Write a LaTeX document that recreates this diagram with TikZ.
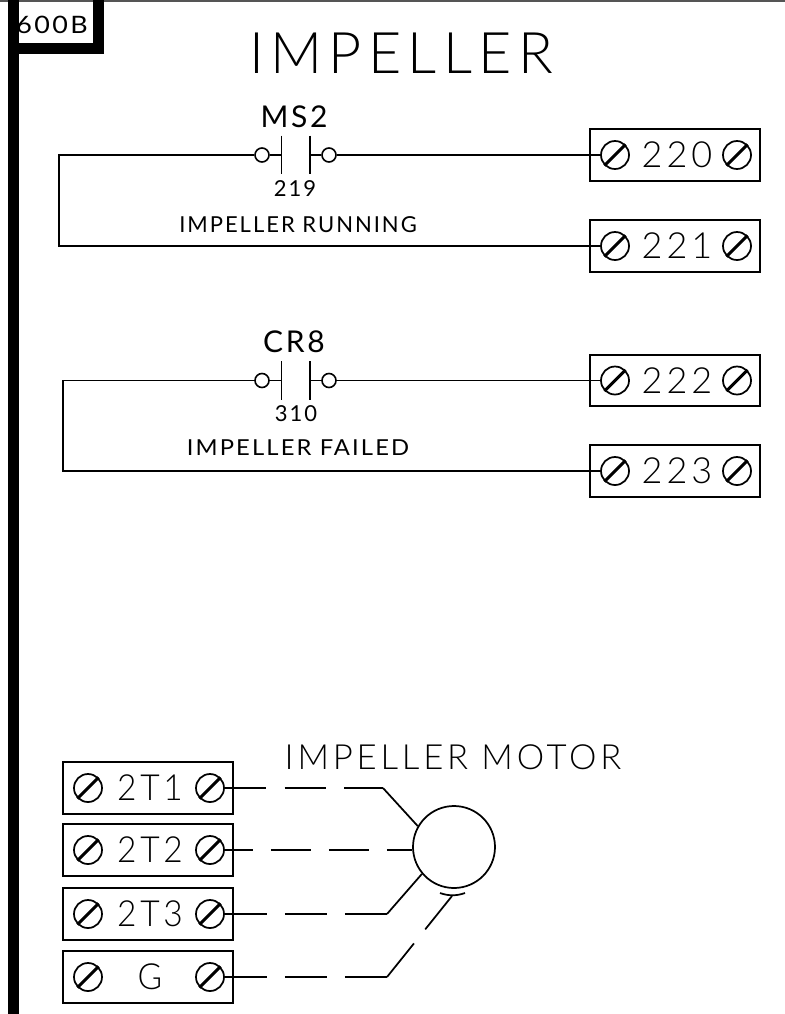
\documentclass[tikz,border=0pt]{standalone}
\usepackage{fontspec}
\usetikzlibrary{positioning, arrows.meta}
\newfontfamily\labelfont[LetterSpace=11]{Lato Light}
\newfontfamily\digitfont[LetterSpace=11]{Lato Light}
\newfontfamily\smallfont[LetterSpace=9]{Lato}
\definecolor{frame_gray}{HTML}{555555}

\tikzset{
    wire/.style={line width=1.3pt},
    termbox/.style={draw, line width=1.5pt, minimum width=127.5pt, minimum height=38.5pt, inner sep=0pt},
    screw/.style={draw, circle, line width=1.3pt, minimum size=21pt, inner sep=0pt},
    contact/.style={draw, circle, line width=1.2pt, minimum size=10.5pt, inner sep=0pt},
    plate/.style={line width=1.2pt},
    termtext/.style={font=\digitfont\fontsize{27}{27}\selectfont, inner sep=0pt}
}

% --- Morsettiera: riquadro, testo e due viti ---
\newcommand{\terminal}[4]{
    \node[termbox] (#1) at (#2, #3) {};
    \node[termtext] (#1-txt) at (#2 + 2, #3) {#4};
    \node[screw] (#1-l) at (#2 - 60, #3) {};
    \node[screw] (#1-r) at (#2 + 62, #3) {};
    \draw[line width=2.2pt] (#1-l.south west) -- (#1-l.north east);
    \draw[line width=2.2pt] (#1-r.south west) -- (#1-r.north east);
}

% --- Contatto con due piastre ---
\newcommand{\ladder}[2]{
    \node[contact] (#1-a) at (262, #2) {};
    \node[contact] (#1-b) at (329, #2) {};
    \coordinate (#1-p) at (281.5, #2);
    \coordinate (#1-q) at (310, #2);
    \draw[wire] (#1-a) -- (#1-p);
    \draw[wire] (#1-q) -- (#1-b);
    \draw[plate] ([yshift=14.5pt]#1-p) -- ([yshift=-14.5pt]#1-p);
    \draw[plate] ([yshift=14.5pt]#1-q) -- ([yshift=-14.5pt]#1-q);
}

\begin{document}
\begin{tikzpicture}[x=0.75pt, y=-0.75pt]
\useasboundingbox (0, 0) rectangle (785, 1014);

% --- Titolo ---
\node[font=\labelfont\fontsize{43}{43}\selectfont, inner sep=0pt] (title) at (401, 53) {IMPELLER};

% --- Etichetta foglio e cornice ---
\node[font=\smallfont\fontsize{18}{18}\selectfont, inner sep=0pt, xscale=1.12] (sheet) at (52, 25) {600B};
\draw[frame_gray, line width=0.9pt] (0, 1) -- (785, 1);
\fill[black] (8, 0) rectangle (19, 1014);
\fill[black] (8, 43) rectangle (104, 54);
\fill[black] (93, 0) rectangle (104, 54);

% --- Morsetti superiori ---
\terminal{t220}{675}{155}{220}
\terminal{t221}{675}{246}{221}
\terminal{t222}{675}{380.5}{222}
\terminal{t223}{675}{471}{223}

% --- 1. Impeller running ---
\ladder{ms}{155}
\node[font=\smallfont\fontsize{22.5}{22.5}\selectfont, inner sep=0pt] (ms-name) at (294, 117) {MS2};
\node[font=\smallfont\fontsize{16.5}{16.5}\selectfont, inner sep=0pt] (ms-ref) at (295, 189) {219};
\node[font=\smallfont\fontsize{16.5}{16.5}\selectfont, inner sep=0pt] (ms-text) at (298, 225) {IMPELLER RUNNING};
\coordinate (ms-c1) at (59, 155);
\coordinate (ms-c2) at (59, 246);
\draw[wire] (ms-b) -- (t220-l);
\draw[wire] (ms-a) -- (ms-c1) -- (ms-c2) -- (t221-l);

% --- 2. Impeller failed ---
\ladder{cr}{380.5}
\node[font=\smallfont\fontsize{22.5}{22.5}\selectfont, inner sep=0pt] (cr-name) at (294, 342) {CR8};
\node[font=\smallfont\fontsize{16.5}{16.5}\selectfont, inner sep=0pt] (cr-ref) at (296, 414) {310};
\node[font=\smallfont\fontsize{16.5}{16.5}\selectfont, inner sep=0pt, xscale=1.08] (cr-text) at (298, 448) {IMPELLER FAILED};
\coordinate (cr-c1) at (63, 380.5);
\coordinate (cr-c2) at (63, 471);
\draw[wire] (cr-b) -- (t222-l);
\draw[wire] (cr-a) -- (cr-c1) -- (cr-c2) -- (t223-l);

% --- Motore ---
\node[font=\labelfont\fontsize{26}{26}\selectfont, inner sep=0pt] (motor-text) at (453, 757) {IMPELLER MOTOR};
\node[draw, circle, line width=1.3pt, minimum size=61.5pt, inner sep=0pt] (motor) at (454, 847) {};

% --- Morsetti inferiori ---
\foreach \name/\y/\txt in {a/788/2T1, b/850/2T2, c/914/2T3, d/977/G} {
    \node[termbox] (m\name) at (148, \y) {};
    \node[termtext, xscale=0.93] (m\name-txt) at (150, \y) {\txt};
    \node[screw] (m\name-l) at (88, \y) {};
    \node[screw] (m\name-r) at (210, \y) {};
    \draw[line width=2.2pt] (m\name-l.south west) -- (m\name-l.north east);
    \draw[line width=2.2pt] (m\name-r.south west) -- (m\name-r.north east);
}

% --- Collegamenti al motore ---
\coordinate (bend-a) at (383, 788);
\coordinate (bend-c) at (387, 914);
\coordinate (bend-d) at (387, 977);
\coordinate (gnd-l) at (440, 893);
\coordinate (gnd-r) at (465, 893);
\coordinate (gnd-p) at (452, 896);
\draw[wire, dash pattern=on 31pt off 13.8pt] (ma-r.east) -- (bend-a);
\draw[wire] (bend-a) -- (motor.150);
\draw[wire, dash pattern=on 30pt off 13.5pt, dash phase=9pt] (mb-r.east) -- (mb-r.east -| motor.west);
\draw[wire, dash pattern=on 31.5pt off 13.5pt] (mc-r.east) -- (bend-c);
\draw[wire] (bend-c) -- (motor.220);
\draw[wire, dash pattern=on 31.5pt off 13.5pt] (md-r.east) -- (bend-d);
\draw[wire, dash pattern=on 32.3pt off 13.5pt] (bend-d) -- (gnd-p);
\draw[wire] (gnd-l) .. controls (448, 896) and (457, 896) .. (gnd-r);

\end{tikzpicture}
\end{document}
